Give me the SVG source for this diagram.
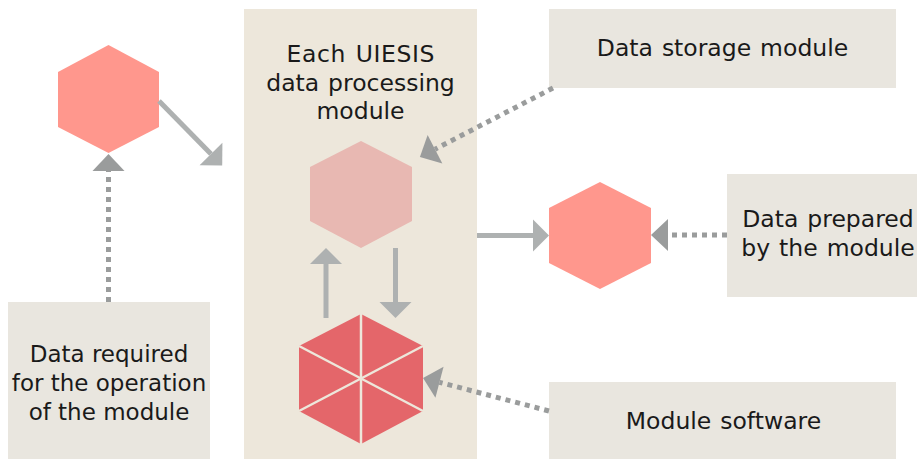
<svg xmlns="http://www.w3.org/2000/svg" width="917" height="459" viewBox="0 0 917 459">
<style>
.box{fill:#E9E6DF}
.main{fill:#EDE7DB}
.hexs{fill:#FF978D}
.hexp{fill:#E8B8B2}
.hexd{fill:#E4666A}
.div{stroke:#EDE7DB;stroke-width:2.5}
.t{font-family:"DejaVu Sans","Verdana",sans-serif;font-size:23.5px;word-spacing:1.5px;fill:#1A1A1A;text-anchor:middle}
.t2{font-size:23px;word-spacing:0px}
.solid{stroke:#AEB1B1;stroke-width:5;fill:none;marker-end:url(#ah)}
.dot{stroke:#9A9C9C;stroke-width:5;fill:none;stroke-dasharray:5 5;marker-end:url(#ad)}
</style>
<defs>
<marker id="ah" markerUnits="userSpaceOnUse" markerWidth="16" markerHeight="32" refX="0" refY="16" orient="auto" overflow="visible">
<path d="M0,0 L16,16 L0,32 Z" fill="#AEB1B1"/>
</marker>
<marker id="ad" markerUnits="userSpaceOnUse" markerWidth="17" markerHeight="32" refX="0" refY="16" orient="auto" overflow="visible">
<path d="M0,0 L17,16 L0,32 Z" fill="#9A9C9C"/>
</marker>
</defs>
<rect width="917" height="459" fill="#FFFFFF"/>

<g id="module-box">
<rect class="main" x="244" y="9" width="233" height="450"/>
<text class="t" x="360.5" y="62" textLength="148" lengthAdjust="spacing">Each UIESIS</text>
<text class="t" x="360.5" y="90.5">data processing</text>
<text class="t" x="360.5" y="119">module</text>
</g>

<g id="data-storage">
<rect class="box" x="549" y="9" width="347" height="79"/>
<text class="t" x="722.5" y="56">Data storage module</text>
</g>

<g id="data-prepared">
<rect class="box" x="727" y="174" width="190" height="123"/>
<text class="t" x="828" y="226.5">Data prepared</text>
<text class="t" x="828" y="256">by the module</text>
</g>

<g id="data-required">
<rect class="box" x="8" y="302" width="202" height="157"/>
<text class="t t2" x="109" y="361.5">Data required</text>
<text class="t t2" x="109" y="391">for the operation</text>
<text class="t t2" x="109" y="419.5">of the module</text>
</g>

<g id="module-software">
<rect class="box" x="549" y="382" width="347" height="77"/>
<text class="t" x="723.5" y="429">Module software</text>
</g>

<g id="input-hex">
<polygon class="hexs" points="108.5,45 159,72 159,127 108.5,153 58,127 58,72"/>
</g>

<g id="processing-hex">
<polygon class="hexp" points="361,141 412,167 412,221 361,248 310,221 310,167"/>
</g>

<g id="output-hex">
<polygon class="hexs" points="600,182 651,208 651,263 600,289 549,263 549,208"/>
</g>

<g id="software-hex">
<polygon class="hexd" points="361,314 423,346 423,411 361,444 299,411 299,346"/>
<line class="div" x1="361" y1="314" x2="361" y2="444"/>
<line class="div" x1="423" y1="346" x2="299" y2="411"/>
<line class="div" x1="299" y1="346" x2="423" y2="411"/>
</g>

<g id="connectors">
<line class="solid" x1="159" y1="101" x2="211" y2="154"/>
<line class="solid" x1="477" y1="235.5" x2="533" y2="235.5"/>
<line class="solid" x1="326" y1="318" x2="326" y2="264"/>
<line class="solid" x1="395.5" y1="248" x2="395.5" y2="302"/>
<line class="dot" x1="108.5" y1="302" x2="108.5" y2="171"/>
<line class="dot" x1="553" y1="88" x2="435" y2="149.2"/>
<line class="dot" x1="727" y1="235" x2="668" y2="235"/>
<line class="dot" x1="549" y1="411" x2="439.5" y2="382.3"/>
</g>
</svg>
